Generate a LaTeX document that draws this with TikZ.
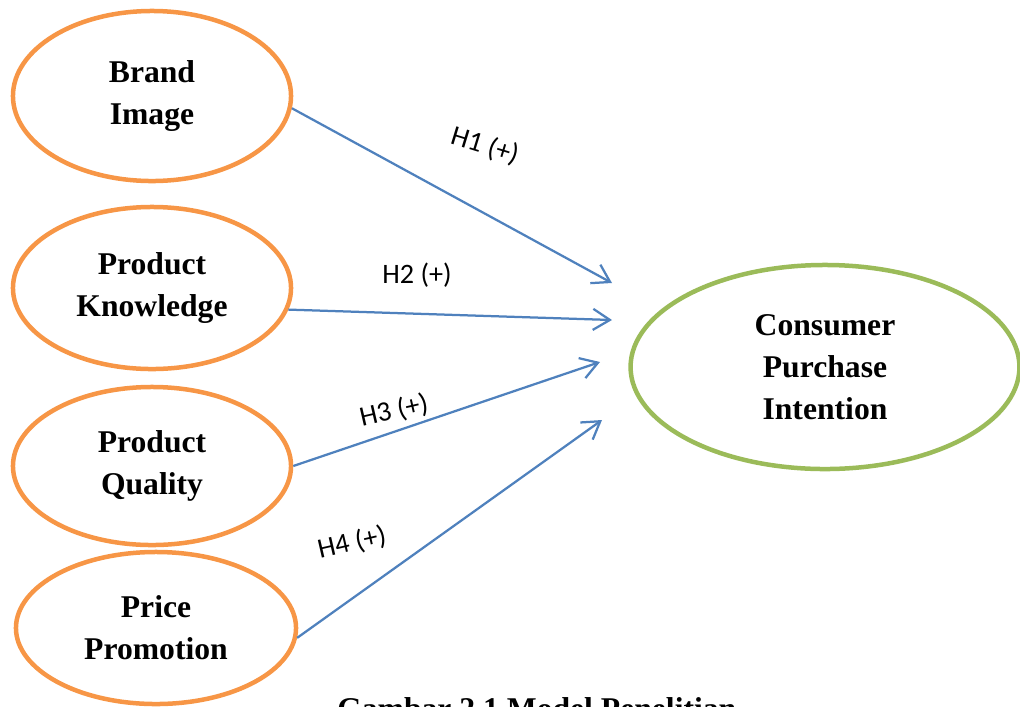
\documentclass[tikz,border=0pt]{standalone}
\usepackage{fontspec}
\setmainfont{Liberation Serif}
\newfontfamily\hypfont{Carlito}
\usetikzlibrary{shapes.geometric,arrows.meta}
\definecolor{varorange}{RGB}{247,150,70}
\definecolor{vargreen}{RGB}{155,187,89}
\definecolor{pathblue}{RGB}{79,129,189}
\begin{document}
\begin{tikzpicture}[x=0.025cm,y=-0.025cm,
    var/.style={ellipse,draw=varorange,line width=3.2pt,inner sep=0pt,align=center,
      font=\bfseries\fontsize{22.5}{30}\selectfont},
    path/.style={draw=pathblue,line width=1.6pt,-{Straight Barb[length=12pt,width=15pt]}},
    hyp/.style={font=\hypfont\fontsize{20}{22}\selectfont,inner sep=0pt}]
    \useasboundingbox (0,0) rectangle (1020,706);
    \node[var,minimum width=6.95cm,minimum height=4.25cm] (bi) at (152,96) {Brand\\Image};
    \node[var,minimum width=6.95cm,minimum height=4.05cm] (pk) at (152,288) {Product\\Knowledge};
    \node[var,minimum width=6.95cm,minimum height=3.95cm] (pq) at (152,466) {Product\\Quality};
    \node[var,minimum width=7cm,minimum height=3.8cm] (pp) at (156,628) {Price\\Promotion};
    \node[var,draw=vargreen,minimum width=9.72cm,minimum height=5.1cm] (cpi) at (825,367) {Consumer\\Purchase\\Intention};
    \coordinate (t1) at (612,283);
    \coordinate (t2) at (612,320);
    \coordinate (t3) at (600,362);
    \coordinate (t4) at (602,420);
    \draw[path] (bi.-5) -- (t1);
    \draw[path] (pk.-9) -- (t2);
    \draw[path] (pq.east) -- (t3);
    \draw[path] (pp.-4) -- (t4);
    \node[hyp,rotate=-17] (h1) at (485,146) {H1 (+)};
    \node[hyp] (h2) at (417,275) {H2 (+)};
    \node[hyp,rotate=13] (h3) at (394,411) {H3 (+)};
    \node[hyp,rotate=13] (h4) at (352,543) {H4 (+)};
    \node[anchor=base west,inner sep=0pt,font=\bfseries\fontsize{22.5}{30}\selectfont] (cap) at (337,719) {Gambar 2.1 Model Penelitian};
\end{tikzpicture}
\end{document}
